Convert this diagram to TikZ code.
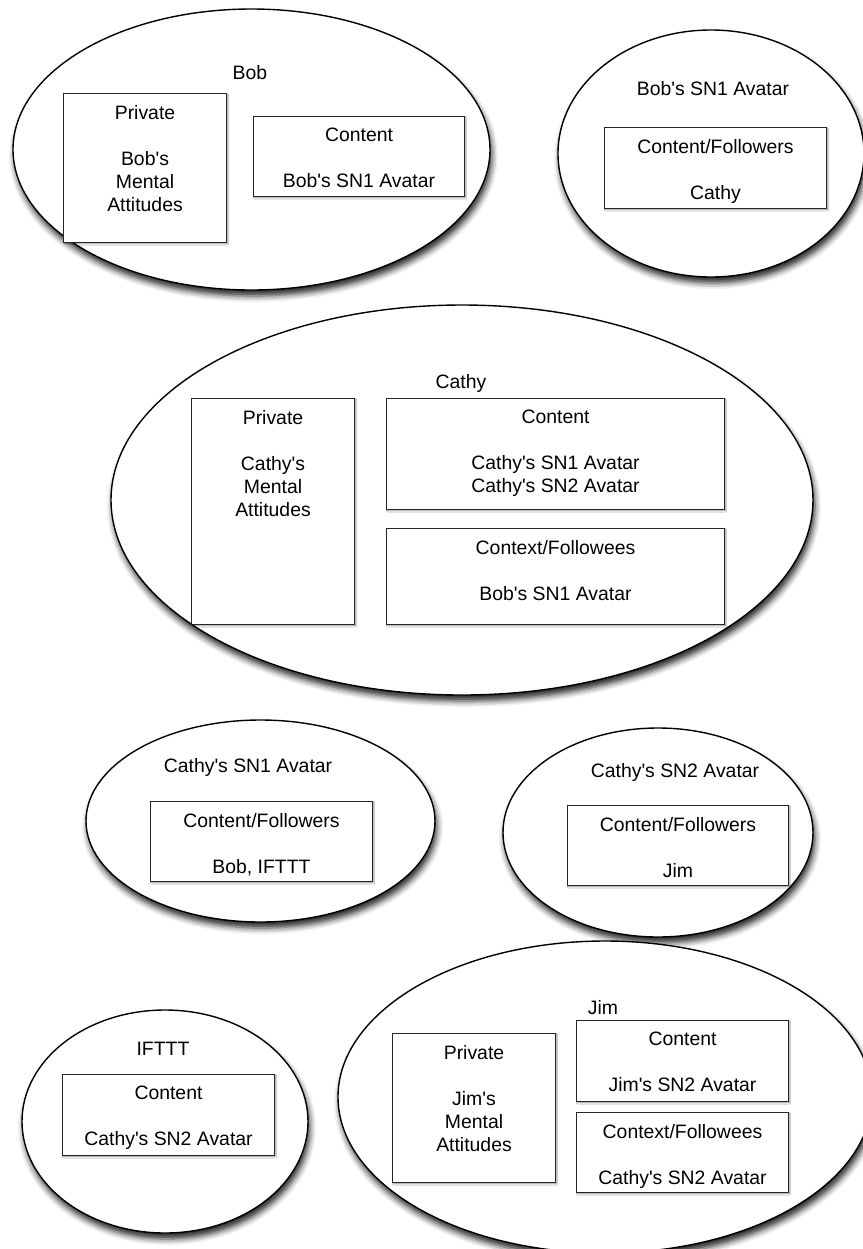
\documentclass[tikz,border=0pt]{standalone}
\usepackage{fontspec}
\setmainfont{Liberation Sans}[Ligatures=TeXOff]
\usetikzlibrary{shadows.blur}

\begin{document}
\begin{tikzpicture}[x=0.5pt,y=-0.5pt,font=\fontsize{9.7}{11.5}\selectfont,
  bubble/.style={draw=black,line width=0.7pt,fill=white,
    blur shadow={shadow xshift=1pt,shadow yshift=-3pt,shadow blur radius=3pt,shadow opacity=85}},
  panel/.style 2 args={draw=black!85,line width=0.5pt,fill=white,anchor=north west,
    inner sep=0pt,minimum width=#1,minimum height=#2,
    blur shadow={shadow xshift=0.5pt,shadow yshift=-0.7pt,shadow blur radius=0.6pt,shadow opacity=40}},
  txt/.style={anchor=north,align=center,inner sep=0pt,yshift=-6pt},
  tag/.style={anchor=base,inner sep=0pt}]
\useasboundingbox (0,0) rectangle (863,1249); % pagina
\clip (0,0) rectangle (863,1249);

% Bob
\draw[bubble] (251.5,149.5) ellipse (238.5 and 140.5); % ellisse Bob
\node[tag] (boblbl) at (250,79) {Bob};
\node[panel={81.5pt}{74.5pt}] (bobpriv) at (63,93) {};
\node[txt] (bobprivtxt) at (bobpriv.north) {Private\\[11.5pt]Bob's\\Mental\\Attitudes};
\node[panel={105.5pt}{40pt}] (bobcont) at (253,116) {};
\node[txt] (bobconttxt) at (bobcont.north) {Content\\[11.5pt]Bob's SN1 Avatar};

% Bob's SN1 Avatar
\draw[bubble] (711,153.5) ellipse (153 and 123.5);
\node[tag] (bobsnlbl) at (713,95) {Bob's SN1 Avatar};
\node[panel={111pt}{40.5pt}] (bobsncont) at (604,127) {};
\node[txt] (bobsnconttxt) at (bobsncont.north) {Content/Followers\\[11.5pt]Cathy};

% Cathy
\draw[bubble] (462,500) ellipse (351 and 195); % ellisse Cathy
\node[tag] (cathylbl) at (461,388) {Cathy};
\node[panel={81.5pt}{113pt}] (cathypriv) at (191,398) {};
\node[txt] (cathyprivtxt) at (cathypriv.north) {Private\\[11.5pt]Cathy's\\Mental\\Attitudes};
\node[panel={169pt}{55.5pt}] (cathycont) at (386,398) {};
\node[txt] (cathyconttxt) at (cathycont.north) {Content\\[11.5pt]Cathy's SN1 Avatar\\Cathy's SN2 Avatar};
\node[panel={169pt}{48pt}] (cathyctx) at (386,528) {};
\node[txt] (cathyctxtxt) at (cathyctx.north) {Context/Followees\\[11.5pt]Bob's SN1 Avatar};

% Cathy's SN1 / SN2 Avatar
\draw[bubble] (260.5,821) ellipse (174.5 and 101);
\node[tag] (cathysnalbl) at (248,772) {Cathy's SN1 Avatar};
\node[panel={111pt}{40pt}] (cathysnacont) at (150,801) {};
\node[txt] (cathysnaconttxt) at (cathysnacont.north) {Content/Followers\\[11.5pt]Bob, IFTTT};
\draw[bubble] (658,832.5) ellipse (155 and 104.5);
\node[tag] (cathysnblbl) at (675,777) {Cathy's SN2 Avatar};
\node[panel={110.5pt}{40pt}] (cathysnbcont) at (567,805) {};
\node[txt] (cathysnbconttxt) at (cathysnbcont.north) {Content/Followers\\[11.5pt]Jim};

% IFTTT
\draw[bubble] (165,1121.5) ellipse (143 and 111.5);
\node[tag] (iftttlbl) at (163,1055) {IFTTT};
\node[panel={106pt}{40.5pt}] (iftttcont) at (62,1074) {};
\node[txt] (iftttconttxt) at (iftttcont.north) {Content\\[11.5pt]Cathy's SN2 Avatar};

% Jim
\draw[bubble] (605,1097) ellipse (267 and 156); % ellisse Jim
\node[tag] (jimlbl) at (603,1014) {Jim};
\node[panel={81.5pt}{74.5pt}] (jimpriv) at (392,1033) {};
\node[txt] (jimprivtxt) at (jimpriv.north) {Private\\[11.5pt]Jim's\\Mental\\Attitudes};
\node[panel={106pt}{40.5pt}] (jimcont) at (576,1020) {};
\node[txt] (jimconttxt) at (jimcont.north) {Content\\[11.5pt]Jim's SN2 Avatar};
\node[panel={106pt}{40pt}] (jimctx) at (576,1112) {};
\node[txt] (jimctxtxt) at (jimctx.north) {Context/Followees\\[11.5pt]Cathy's SN2 Avatar};
\end{tikzpicture}
\end{document}
